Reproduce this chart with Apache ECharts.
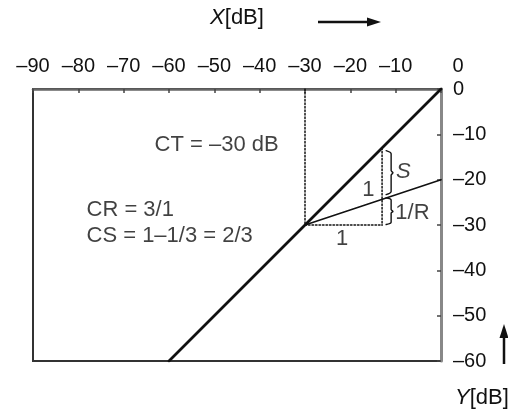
<!DOCTYPE html>
<html>
<head>
<meta charset="utf-8">
<script src="https://cdn.jsdelivr.net/npm/echarts@6/dist/echarts.min.js"></script>
<style>
  html, body { margin: 0; padding: 0; background: #fff; }
  #chart { width: 508px; height: 416px; }
</style>
</head>
<body>
<div id="chart"></div>
<script>
// ---- Data ----
var xTicks = [-90, -80, -70, -60, -50, -40, -30, -20, -10, 0];
var xTickLabels = ['–90', '–80', '–70', '–60', '–50', '–40', '–30', '–20', '–10', '0'];
var yTicks = [-60, -50, -40, -30, -20, -10, 0];
var yTickLabels = ['–60', '–50', '–40', '–30', '–20', '–10', '0'];

var threshold = -30;           // CT
var ratio = 3;                 // CR
// Uncompressed characteristic (slope 1)
var linearLine = [[-60, -60], [0, 0]];
// Compressed characteristic above threshold
var compressedLine = [[-30, -30], [0, -20]];
// Dotted construction lines
var dottedThreshold = [[-30, 0], [-30, -30]];
var dottedRun = [[-30, -30], [-13, -30]];
var dottedRise = [[-13, -13], [-13, -30]];
// Brace shapes (data coordinates)
var braceS = [[-12.1, -13.6], [-11.0, -14.3], [-11.0, -18.0], [-10.6, -18.5], [-11.0, -19.0], [-11.0, -22.6], [-12.1, -23.3]];
var braceR = [[-12.1, -24.0], [-11.0, -24.5], [-11.0, -26.6], [-10.6, -27.0], [-11.0, -27.4], [-11.0, -29.4], [-12.1, -29.9]];
// Annotation texts and their anchor points
var centerTexts = [
  { text: 'CT = –30 dB', pos: [-49.5, -12.3] },
  { text: '1', pos: [-16.0, -22.3] },
  { text: '1/R', pos: [-6.3, -27.3] },
  { text: '1', pos: [-21.8, -33.1] }
];
var leftTexts = [
  { text: 'CR = 3/1', pos: [-78.2, -26.7] },
  { text: 'CS = 1–1/3 = 2/3', pos: [-78.2, -32.4] }
];
var italicTexts = [
  { text: 'S', pos: [-8.3, -18.3] }
];

var FONT = 'Liberation Sans, Arial, sans-serif';
var INK = '#111';

function lineSeries(data, width, type, color) {
  return {
    type: 'line', data: data, symbol: 'none', silent: true, animation: false,
    lineStyle: { color: color || INK, width: width, type: type || 'solid', cap: 'round', join: 'round' }
  };
}
function textSeries(items, align, style) {
  return {
    type: 'scatter', symbolSize: 0, silent: true, animation: false,
    data: items.map(function (d) { return { value: d.pos, name: d.text }; }),
    label: Object.assign({
      show: true, position: 'inside', formatter: '{b}', align: align, verticalAlign: 'middle',
      fontFamily: FONT, fontSize: 22, color: INK
    }, style || {})
  };
}

var chart = echarts.init(document.getElementById('chart'), null, { renderer: 'canvas' });
var option = {
  animation: false,
  backgroundColor: '#fff',
  grid: { left: 33, right: 67, top: 89, bottom: 55, show: true, borderColor: '#333', borderWidth: 2, backgroundColor: 'transparent' },
  xAxis: {
    type: 'value', position: 'top', min: -90, max: 0, interval: 10,
    axisLine: { show: true, onZero: false, lineStyle: { color: '#666', width: 2.5 } },
    axisTick: { show: true, inside: true, length: 4, lineStyle: { color: '#444', width: 1.5 } },
    splitLine: { show: false },
    axisLabel: {
      margin: 13, fontFamily: FONT, fontSize: 20, color: INK,
      formatter: function (v) {
        var i = xTicks.indexOf(v);
        var s = i >= 0 ? xTickLabels[i] : '';
        return v === 0 ? '{z|' + s + '}' : s;
      },
      rich: { z: { padding: [0, 0, 0, 34], fontFamily: FONT, fontSize: 20, color: INK } }
    },
    name: '{i|X}[dB]', nameLocation: 'middle', nameGap: 60,
    nameTextStyle: { fontFamily: FONT, fontSize: 22, color: INK, rich: { i: { fontStyle: 'italic', fontFamily: FONT, fontSize: 22, color: INK } } }
  },
  yAxis: {
    type: 'value', position: 'right', min: -60, max: 0, interval: 10,
    axisLine: { show: true, onZero: false, lineStyle: { color: '#888', width: 3 } },
    axisTick: { show: true, inside: true, length: 4, lineStyle: { color: '#444', width: 1.5 } },
    splitLine: { show: false },
    axisLabel: {
      margin: 12, fontFamily: FONT, fontSize: 20, color: INK,
      formatter: function (v) { var i = yTicks.indexOf(v); return i >= 0 ? yTickLabels[i] : ''; }
    }
  },
  series: [
    lineSeries(dottedThreshold, 1.5, [1.5, 2]),
    lineSeries(dottedRun, 1.5, [1.5, 2]),
    lineSeries(dottedRise, 1.5, [1.5, 2]),
    lineSeries(linearLine, 2.8),
    lineSeries(compressedLine, 1.6),
    Object.assign(lineSeries(braceS, 1.4), { smooth: 0.3 }),
    Object.assign(lineSeries(braceR, 1.4), { smooth: 0.3 }),
    textSeries(centerTexts, 'center'),
    textSeries(leftTexts, 'left'),
    textSeries(italicTexts, 'center', { fontStyle: 'italic' })
  ],
  graphic: [
    // X arrow
    { type: 'line', shape: { x1: 318, y1: 22, x2: 370, y2: 22 }, style: { stroke: INK, lineWidth: 2.5 } },
    { type: 'polygon', shape: { points: [[381, 22], [367, 17.5], [367, 26.5]] }, style: { fill: INK } },
    // Y arrow
    { type: 'line', shape: { x1: 504, y1: 364, x2: 504, y2: 336 }, style: { stroke: INK, lineWidth: 2.5 } },
    { type: 'polygon', shape: { points: [[504, 324], [499.5, 338], [508.5, 338]] }, style: { fill: INK } },
    // Y name
    { type: 'text', left: 455, top: 387, style: { text: '{i|Y}[dB]', font: '22px ' + FONT, fill: INK,
      rich: { i: { fontStyle: 'italic', fontSize: 22, fontFamily: FONT, fill: INK } } } }
  ]
};
chart.setOption(option);
</script>
</body>
</html>
